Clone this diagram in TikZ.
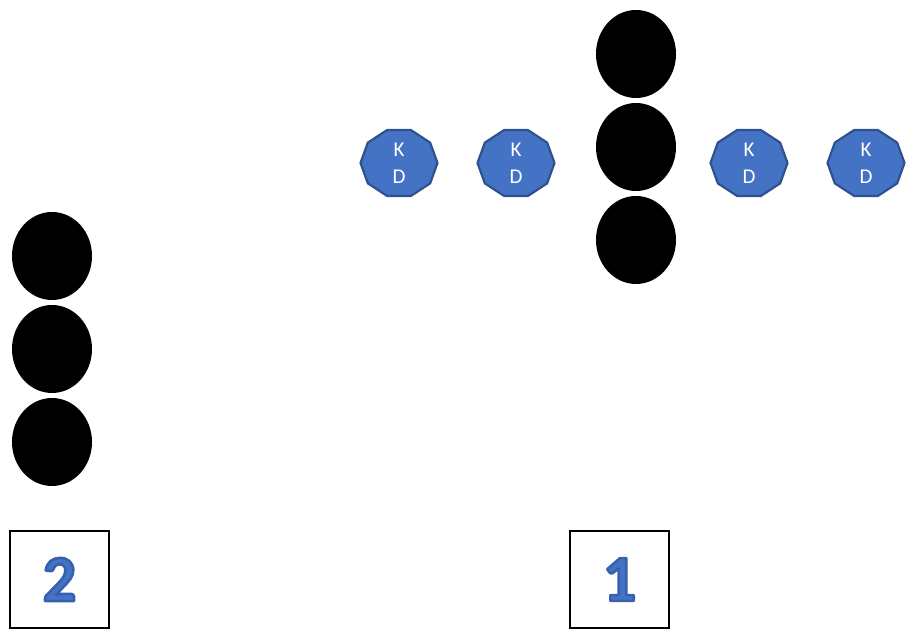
\documentclass[tikz,border=0pt]{standalone}
\usepackage{fontspec}
\setmainfont{Carlito}
\usetikzlibrary{shapes.geometric}
\definecolor{kdfill}{HTML}{4472C4}
\definecolor{kdline}{HTML}{2F528F}
\newcommand{\outlinedigit}[1]{\special{pdf:literal direct 2 Tr 2.6 w 1 j 0.22 0.38 0.68 RG}#1\special{pdf:literal direct 0 Tr}}
\tikzset{
  blob/.style={ellipse, fill=black, draw=none, minimum width=80pt, minimum height=88pt, inner sep=0pt},
  kd/.style={regular polygon, regular polygon sides=10, fill=kdfill, draw=kdline, line width=2.2pt,
             minimum size=77pt, inner sep=0pt, transform shape},
  kdtext/.style={text=white, align=center, font=\fontsize{21}{27}\selectfont, inner sep=0pt}
}
\tikzset{
  numbox/.style={draw=black, line width=1.6pt, minimum width=99pt, minimum height=97pt, inner sep=0pt,
                 text=kdfill, font=\fontsize{66}{66}\selectfont\bfseries}
}
\begin{document}
\begin{tikzpicture}[x=1pt,y=1pt]
\useasboundingbox (0,0) rectangle (908,634);
% right column of blobs
\node[blob] (r1) at (636,580) {};
\node[blob] (r2) at (636,487) {};
\node[blob] (r3) at (636,394) {};
% left column of blobs
\node[blob] (l1) at (52,378) {};
\node[blob] (l2) at (52,285) {};
\node[blob] (l3) at (52,192) {};
% decagons
\foreach \n/\x in {1/399,2/516,3/749,4/866}{
  \begin{scope}[shift={(\x,471)},yscale=0.9]
    \node[kd] (k\n) at (0,0) {};
  \end{scope}
  \node[kdtext] (t\n) at (\x,471) {K\\D};
}
% number boxes
\node[numbox] (b2) at (59.5,54.5) {\outlinedigit{2}};
\node[numbox] (b1) at (619.5,54.5) {\outlinedigit{1}};
\end{tikzpicture}
\end{document}
